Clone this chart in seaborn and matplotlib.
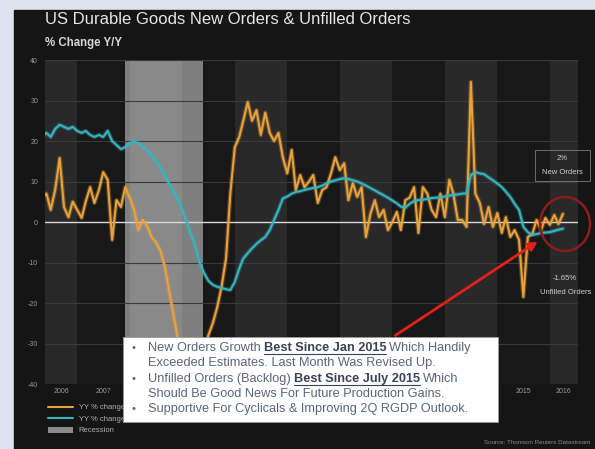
import matplotlib
matplotlib.use("Agg")
import matplotlib.pyplot as plt
from matplotlib.patches import Rectangle, Ellipse, Patch, FancyArrowPatch
from matplotlib.lines import Line2D
import matplotlib.patheffects as pe
import pandas as pd
import seaborn as sns

# monthly YoY % change, May 2006 .. Apr 2016
months = pd.date_range("2006-05-01", periods=120, freq="MS")
new_orders = [6, 7, 3, 8, 15.8, 3.7, 1.2, 5, 3, 1,
              5, 8.6, 4.7, 7.9, 12.3, 10.4, -4.4, 5.4, 3.7, 8.6,
              6, 3, -2, 0.5, -1, -3.7, -5, -7, -11, -17,
              -23, -29, -34, -37, -39, -38, -36, -32, -28, -25,
              -21, -16, -9, 7, 18.5, 21, 25, 29.6, 25, 27.6,
              21.5, 27, 22, 20, 22, 16, 12, 17.8, 7.9, 11.6,
              8.6, 10, 11.6, 4.7, 7.9, 8.6, 12, 16, 12.8, 14.5,
              5.4, 9.6, 6.2, 8.6, -3.7, 2, 5.4, 1.2, 3, -2,
              0, 2.5, -2, 5.4, 6, 8.6, -2.7, 8.6, 7, 3,
              1.2, 7, 1.2, 10.4, 7, 0.5, 0.5, -1.2, 34.6, 7,
              4.7, -0.5, 3.7, -1.2, 2.2, -2.7, 1.2, -3.7, -2, -4.4,
              -18.5, -3.7, -3, 0.5, -2, 1, -0.7, 1.7, -0.5, 2]
unfilled = [21, 22, 21, 23, 24, 23.5, 23, 23.5, 22.5, 22,
            22.5, 21.5, 21, 21.5, 21, 22.5, 20, 19, 18, 18.5,
            19.5, 19.8, 19.5, 18.5, 17.8, 16.5, 15, 13.6, 11.5, 9.5,
            7.5, 5.5, 3, 0, -3, -6, -10, -12.6, -14.5, -15.5,
            -16, -16.3, -16.6, -16.8, -14.8, -11.5, -9, -7.7, -6.5, -5.4,
            -4.5, -3.7, -2, 0.5, 3, 5.8, 6.3, 7, 7.4, 7.6,
            7.9, 8.2, 8.4, 8.6, 9, 9.5, 10, 10.3, 10.6, 10.8,
            10.6, 10.3, 10, 9.5, 9, 8.4, 7.8, 7.2, 6.6, 6,
            5.3, 4.6, 3.8, 3.5, 4.5, 5.2, 5.4, 5.5, 5.7, 5.9,
            6, 6.1, 6.3, 6.5, 6.7, 6.8, 7, 7.1, 11.6, 12.3,
            12, 11.8, 11, 10.3, 9.5, 8.6, 7.5, 6.2, 4.5, 3,
            -1.2, -2.5, -3.2, -3, -2.7, -2.6, -2.5, -2.2, -1.9, -1.65]
years = list(range(2006, 2017))
shown_years = [2006, 2007, 2015, 2016]   # the rest sit behind the comment box
y_ticks = [40, 30, 20, 10, 0, -10, -20, -30, -40]
recession = ("2007-12-01", "2009-05-25")
x_start, x_end = pd.Timestamp("2006-05-22"), pd.Timestamp("2016-07-15")

df = pd.DataFrame({"date": months, "New Orders": new_orders, "Unfilled Orders": unfilled})
long_df = df.melt("date", var_name="series", value_name="yoy")
colors = {"New Orders": "#e9a23b", "Unfilled Orders": "#35b4c2"}

sns.set_theme(style="dark")
plt.rcParams["font.family"] = ["Liberation Sans", "DejaVu Sans"]

W, H = 595, 449
fig = plt.figure(figsize=(W / 100, H / 100), dpi=100, facecolor="#dfe3f0")
fig.patches.append(Rectangle((14 / W, 0), 1, 1 - 10 / H, transform=fig.transFigure,
                             color="#151515", zorder=-10))

ax = fig.add_axes([45 / W, 1 - 384 / H, 533 / W, 324 / H])
ax.set_facecolor("#181818")

# alternating year bands
for i, yr in enumerate(years):
    if i % 2 == 0:
        ax.axvspan(pd.Timestamp(f"{yr}-01-01"), pd.Timestamp(f"{yr + 1}-01-01"),
                   color="#292929", lw=0, zorder=0)
ax.axvspan(pd.Timestamp(recession[0]), pd.Timestamp(recession[1]),
           color="white", alpha=0.45, lw=0, zorder=0.5)

for v in y_ticks:
    if v == 0:
        ax.axhline(v, color="#d8d8d8", lw=1.0, zorder=1)
    else:
        ax.axhline(v, color="#3a3a3a", lw=0.8, zorder=1)

sns.lineplot(data=long_df, x="date", y="yoy", hue="series", palette=colors,
             linewidth=1.5, legend=False, ax=ax, zorder=3)
for line in ax.get_lines()[-2:]:
    c = line.get_color()
    line.set_path_effects([pe.Stroke(linewidth=3.2, foreground=c, alpha=0.3), pe.Normal()])

ax.set_xlim(x_start, x_end)
ax.set_ylim(-40, 40)
ax.set_yticks(y_ticks)
ax.set_yticklabels([str(v) for v in y_ticks])

# year labels centred on the visible part of each year
tick_pos, tick_lab = [], []
for yr in shown_years:
    a = max(pd.Timestamp(f"{yr}-01-01"), x_start)
    b = min(pd.Timestamp(f"{yr + 1}-01-01"), x_end)
    tick_pos.append(a + (b - a) / 2)
    tick_lab.append(str(yr))
ax.set_xticks(tick_pos)
ax.set_xticklabels(tick_lab)
ax.tick_params(axis="both", length=0, labelsize=5, labelcolor="#9a9a9a")
ax.tick_params(axis="y", pad=5)
ax.tick_params(axis="x", pad=3)
ax.set_xlabel("")
ax.set_ylabel("")
ax.grid(False)
for s in ax.spines.values():
    s.set_visible(False)

handles = [Line2D([], [], color=colors["New Orders"], lw=1.5),
           Line2D([], [], color=colors["Unfilled Orders"], lw=1.5),
           Patch(facecolor="#8a8a8a", edgecolor="none")]
labels = ["YY % change", "YY % change", "Recession"]
ax.legend(handles, labels, loc="upper left", bbox_to_anchor=(45 / W, 1 - 401 / H),
          bbox_transform=fig.transFigure, frameon=False, fontsize=5.5,
          labelcolor="#b0b0b0", handlelength=3.2, labelspacing=0.55, borderaxespad=0)

fig.text(45 / W, 1 - 20 / H, "US Durable Goods New Orders & Unfilled Orders",
         fontsize=12, color="#e6e6e6", va="center")
fig.text(45 / W, 1 - 43 / H, "% Change Y/Y", fontsize=8.3, weight="bold",
         color="#d6d6d6", va="center")

# commentary box
fig.patches.append(Rectangle((123 / W, 1 - 422 / H), 375 / W, 85 / H, transform=fig.transFigure,
                             facecolor="white", edgecolor="#9a9a9a", lw=0.6, zorder=5))
renderer = fig.canvas.get_renderer()
body_c, strong_c = "#5b6479", "#3a4158"


def rich_line(x_px, y_px, pieces, bullet=False):
    if bullet:
        fig.text(131 / W, 1 - y_px / H, "\u2022", fontsize=8, color=body_c,
                 va="center", zorder=6)
    x = x_px
    for txt, strong in pieces:
        t = fig.text(x / W, 1 - y_px / H, txt, fontsize=9.2, va="center", zorder=6,
                     color=strong_c if strong else body_c,
                     weight="bold" if strong else "normal")
        w = t.get_window_extent(renderer).width
        if strong:
            fig.add_artist(Line2D([x / W, (x + w) / W], [1 - (y_px + 6) / H] * 2,
                                  transform=fig.transFigure, color=strong_c, lw=0.8, zorder=6))
        x += w + 3


rich_line(148, 348, [("New Orders Growth", False), ("Best Since Jan 2015", True),
                     ("Which Handily", False)], bullet=True)
rich_line(148, 363, [("Exceeded Estimates. Last Month Was Revised Up.", False)])
rich_line(148, 379, [("Unfilled Orders (Backlog)", False), ("Best Since July 2015", True),
                     ("Which", False)], bullet=True)
rich_line(148, 394, [("Should Be Good News For Future Production Gains.", False)])
rich_line(148, 409, [("Supportive For Cyclicals & Improving 2Q RGDP Outlook.", False)], bullet=True)

# callouts on the latest readings
fig.patches.append(Rectangle((535 / W, 1 - 181 / H), 55 / W, 31 / H, transform=fig.transFigure,
                             facecolor="none", edgecolor="#7a7a7a", lw=0.6, zorder=5))
fig.text(562 / W, 1 - 158 / H, "2%", fontsize=5.5, color="#cfcfcf", ha="center", va="center")
fig.text(562 / W, 1 - 172 / H, "New Orders", fontsize=5.5, color="#cfcfcf", ha="center", va="center")
fig.text(565 / W, 1 - 278 / H, "-1.65%", fontsize=5.5, color="#cfcfcf", ha="center", va="center")
fig.text(566 / W, 1 - 292 / H, "Unfilled Orders", fontsize=5.5, color="#cfcfcf", ha="center", va="center")

fig.patches.append(Ellipse((565 / W, 1 - 224 / H), 50 / W, 54 / H, transform=fig.transFigure,
                           fill=False, edgecolor="#8e1c1c", lw=1.8, zorder=5))
fig.patches.append(FancyArrowPatch((393 / W, 1 - 337 / H), (540 / W, 1 - 240 / H),
                                   transform=fig.transFigure, arrowstyle="-|>", mutation_scale=13,
                                   color="#e3201b", lw=2.0, zorder=4))

fig.text(590 / W, 1 - 443 / H, "Source: Thomson Reuters Datastream", fontsize=4.5,
         color="#8a8a8a", ha="right", va="center")

fig.savefig("out.png", dpi=100, facecolor=fig.get_facecolor())
